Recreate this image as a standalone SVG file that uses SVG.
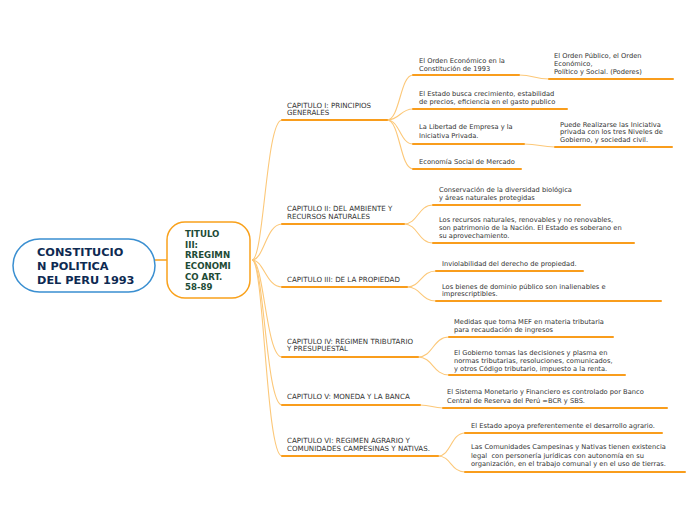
<svg xmlns="http://www.w3.org/2000/svg" width="696" height="520" viewBox="0 0 696 520">
<style>
.ul{stroke:#f99d1c;stroke-width:2;fill:none;stroke-linecap:round}
.cv{stroke:#fcc879;stroke-width:1.1;fill:none}
.cap{font-family:"DejaVu Sans",Verdana,sans-serif;font-size:7.1px;fill:#333}
.lf{font-family:"DejaVu Sans",Verdana,sans-serif;font-size:6.7px;fill:#333}
</style>
<rect width="696" height="520" fill="#fff"/>
<g id="connectors">
<path class="cv" d="M155,260 L167,260" style="stroke:#f9a11b;stroke-width:1.5"/>
<path class="cv" d="M252,260 C264,260 266,120 282,120"/>
<path class="cv" d="M252,260 C264,260 266,224 282,224"/>
<path class="cv" d="M252,260 C264,260 266,287 282,287"/>
<path class="cv" d="M252,260 C264,260 266,357 282,357"/>
<path class="cv" d="M252,260 C264,260 266,405 282,405"/>
<path class="cv" d="M252,260 C264,260 266,456 282,456"/>
<path class="cv" d="M387,120 C400,120 400,75 413,75"/>
<path class="cv" d="M387,120 C400,120 400,109 413,109"/>
<path class="cv" d="M387,120 C400,120 400,144 413,144"/>
<path class="cv" d="M387,120 C400,120 400,169 413,169"/>
<path class="cv" d="M519,75 C534,75 534,79 549,79"/>
<path class="cv" d="M524,144 C540,144 540,147 555,147"/>
<path class="cv" d="M404,224 C418,224 418,205 433,205"/>
<path class="cv" d="M404,224 C418,224 418,243 433,243"/>
<path class="cv" d="M407,287 C421,287 421,271 436,271"/>
<path class="cv" d="M407,287 C421,287 421,301 436,301"/>
<path class="cv" d="M418,357 C433,357 433,337 449,337"/>
<path class="cv" d="M418,357 C433,357 433,375 449,375"/>
<path class="cv" d="M420,405 C432,405 432,408 443,408"/>
<path class="cv" d="M438,456 C451,456 451,433 465,433"/>
<path class="cv" d="M438,456 C451,456 451,472 465,472"/>
</g>
<g id="root">
<rect x="13" y="239" width="142" height="53" rx="26.5" fill="#fff" stroke="#3a8fd1" stroke-width="1.5"/>
<text font-family="'DejaVu Sans',Verdana,sans-serif" font-weight="bold" font-size="11.3" fill="#0e2a52"><tspan x="37" y="256">CONSTITUCIO</tspan><tspan x="37" y="270">N POLITICA</tspan><tspan x="37" y="284">DEL PERU 1993</tspan></text>
</g>
<g id="titulo">
<rect x="167" y="222" width="83" height="76" rx="18" fill="#fff" stroke="#f9a11b" stroke-width="1.5"/>
<text font-family="'DejaVu Sans',Verdana,sans-serif" font-weight="bold" font-size="8.6" fill="#1e4b36"><tspan x="185" y="237">TITULO</tspan><tspan x="185" y="248">III:</tspan><tspan x="185" y="258">RREGIMN</tspan><tspan x="185" y="269">ECONOMI</tspan><tspan x="185" y="280">CO ART.</tspan><tspan x="185" y="290">58-89</tspan></text>
</g>
<g id="cap1">
<path class="ul" d="M282,120 H387"/>
<text class="cap"><tspan x="287" y="107.5">CAPITULO I: PRINCIPIOS</tspan><tspan x="287" y="115">GENERALES</tspan></text>
</g>
<g id="c1a">
<path class="ul" d="M413,75 H519"/>
<text class="lf"><tspan x="419" y="62.5">El Orden Económico en la</tspan><tspan x="419" y="70.5">Constitución de 1993</tspan></text>
</g>
<g id="c1a1">
<path class="ul" d="M549,79 H673"/>
<text class="lf"><tspan x="554" y="58">El Orden Público, el Orden</tspan><tspan x="554" y="66">Económico,</tspan><tspan x="554" y="73.5">Político y Social. (Poderes)</tspan></text>
</g>
<g id="c1b">
<path class="ul" d="M413,109 H567"/>
<text class="lf"><tspan x="419" y="96">El Estado busca crecimiento, estabilidad</tspan><tspan x="419" y="104">de precios, eficiencia en el gasto publico</tspan></text>
</g>
<g id="c1c">
<path class="ul" d="M413,144 H524"/>
<text class="lf"><tspan x="419" y="129">La Libertad de Empresa y la</tspan><tspan x="419" y="137.5">Iniciativa Privada.</tspan></text>
</g>
<g id="c1c1">
<path class="ul" d="M555,147 H672"/>
<text class="lf"><tspan x="560" y="126.5">Puede Realizarse las Iniciativa</tspan><tspan x="560" y="134">privada con los tres Niveles de</tspan><tspan x="560" y="142">Gobierno, y sociedad civil.</tspan></text>
</g>
<g id="c1d">
<path class="ul" d="M413,169 H521"/>
<text class="lf"><tspan x="419" y="164">Economía Social de Mercado</tspan></text>
</g>
<g id="cap2">
<path class="ul" d="M282,224 H404"/>
<text class="cap"><tspan x="287" y="210.5">CAPITULO II: DEL AMBIENTE Y</tspan><tspan x="287" y="218.5">RECURSOS NATURALES</tspan></text>
</g>
<g id="c2a">
<path class="ul" d="M433,205 H580"/>
<text class="lf"><tspan x="439" y="191.5">Conservación de la diversidad biológica</tspan><tspan x="439" y="199.5">y áreas naturales protegidas</tspan></text>
</g>
<g id="c2b">
<path class="ul" d="M433,243 H634"/>
<text class="lf"><tspan x="439" y="221.5">Los recursos naturales, renovables y no renovables,</tspan><tspan x="439" y="230">son patrimonio de la Nación. El Estado es soberano en</tspan><tspan x="439" y="238">su aprovechamiento.</tspan></text>
</g>
<g id="cap3">
<path class="ul" d="M282,287 H407"/>
<text class="cap"><tspan x="287" y="281.5">CAPITULO III: DE LA PROPIEDAD</tspan></text>
</g>
<g id="c3a">
<path class="ul" d="M436,271 H583"/>
<text class="lf"><tspan x="442" y="265.5">Inviolabilidad del derecho de propiedad.</tspan></text>
</g>
<g id="c3b">
<path class="ul" d="M436,301 H661"/>
<text class="lf"><tspan x="442" y="288.5">Los bienes de dominio público son inalienables e</tspan><tspan x="442" y="296">imprescriptibles.</tspan></text>
</g>
<g id="cap4">
<path class="ul" d="M282,357 H418"/>
<text class="cap"><tspan x="287" y="343.5">CAPITULO IV: REGIMEN TRIBUTARIO</tspan><tspan x="287" y="351">Y PRESUPUESTAL</tspan></text>
</g>
<g id="c4a">
<path class="ul" d="M449,337 H613"/>
<text class="lf"><tspan x="454" y="324">Medidas que toma MEF en materia tributaria</tspan><tspan x="454" y="332">para recaudación de ingresos</tspan></text>
</g>
<g id="c4b">
<path class="ul" d="M449,375 H625"/>
<text class="lf"><tspan x="454" y="355">El Gobierno tomas las decisiones y plasma en</tspan><tspan x="454" y="362.5">normas tributarias, resoluciones, comunicados,</tspan><tspan x="454" y="370.5">y otros Código tributario, impuesto a la renta.</tspan></text>
</g>
<g id="cap5">
<path class="ul" d="M282,405 H420"/>
<text class="cap"><tspan x="287" y="399">CAPITULO V: MONEDA Y LA BANCA</tspan></text>
</g>
<g id="c5a">
<path class="ul" d="M443,408 H667"/>
<text class="lf"><tspan x="447" y="394">El Sistema Monetario y Financiero es controlado por Banco</tspan><tspan x="447" y="402.5">Central de Reserva del Perú =BCR y SBS.</tspan></text>
</g>
<g id="cap6">
<path class="ul" d="M282,456 H438"/>
<text class="cap"><tspan x="287" y="442.5">CAPITULO VI: REGIMEN AGRARIO Y</tspan><tspan x="287" y="451">COMUNIDADES CAMPESINAS Y NATIVAS.</tspan></text>
</g>
<g id="c6a">
<path class="ul" d="M465,433 H662"/>
<text class="lf"><tspan x="471" y="427.5">El Estado apoya preferentemente el desarrollo agrario.</tspan></text>
</g>
<g id="c6b">
<path class="ul" d="M465,472 H685"/>
<text class="lf" xml:space="preserve"><tspan x="471" y="449">Las Comunidades Campesinas y Nativas tienen existencia</tspan><tspan x="471" y="457.5">legal  con personería jurídicas con autonomía en su</tspan><tspan x="471" y="466">organización, en el trabajo comunal y en el uso de tierras.</tspan></text>
</g>
</svg>
